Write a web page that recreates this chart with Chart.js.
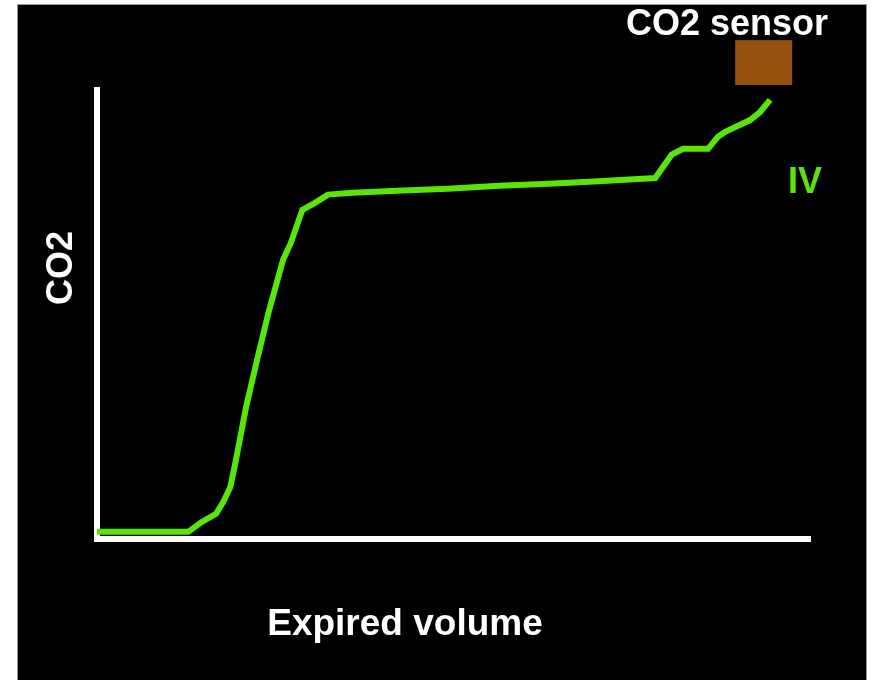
<!DOCTYPE html>
<html>
<head>
<meta charset="utf-8">
<script src="https://cdn.jsdelivr.net/npm/chart.js@4.4.1/dist/chart.umd.min.js"></script>
<style>
    html, body {
        margin: 0;
        padding: 0;
        background: #ffffff;
    }

    #stage {
        position: relative;
        width: 874px;
        height: 680px;
    }

    #panel {
        position: absolute;
        left: 18px;
        top: 5px;
        width: 848px;
        height: 675px;
        background: #000000;
        box-shadow: 0 0 0 1px #9a9a9a;
    }

    #chart {
        position: absolute;
        left: 0;
        top: 0;
    }
</style>
</head>
<body>
<div id="stage">
    <div id="panel"></div>
    <canvas id="chart" width="874" height="680"></canvas>
</div>
<script>
// Capnogram: expired volume (x) vs CO2 (y), arbitrary units 0-100
const volume = [0, 12.8, 14.7, 16.7, 17.7, 18.7, 19.4, 20.9, 22.6, 24.1, 26.1, 27.2, 28.8, 30.4, 32.4, 35.9,
    42.9, 49.2, 56.4, 63.4, 69.7, 78.3, 79.4, 80.6, 82.2, 85.7, 87.1, 88.1, 91.6, 93.0, 94.4];
const co2 = [1.6, 1.6, 3.8, 5.6, 8.2, 11.6, 16.9, 29.3, 40.9, 50.7, 62.2, 66.0, 73.3, 74.7, 76.7, 77.1,
    77.6, 78.0, 78.7, 79.1, 79.6, 80.4, 82.9, 85.6, 86.9, 86.9, 89.6, 90.7, 93.3, 95.1, 97.8];

// sensor block, in the same units: [xFrom, xTo, yFrom, yTo]
const sensorBox = [89.5, 97.5, 101.1, 111.1];

const GREEN = '#58e60a';
const FONT = 'bold 36px "Liberation Sans", Arial, sans-serif';

const points = volume.map((v, i) => ({ x: v, y: co2[i] }));

const labelsPlugin = {
    id: 'capnoLabels',
    afterDraw(chart) {
        const { ctx, scales } = chart;
        const x = scales.x;
        const y = scales.y;

        ctx.save();

        // CO2 sensor block
        const left = x.getPixelForValue(sensorBox[0]);
        const right = x.getPixelForValue(sensorBox[1]);
        const top = y.getPixelForValue(sensorBox[3]);
        const bottom = y.getPixelForValue(sensorBox[2]);
        ctx.fillStyle = '#985010';
        ctx.fillRect(left, top, right - left, bottom - top);

        ctx.font = FONT;
        ctx.textAlign = 'center';
        ctx.textBaseline = 'alphabetic';

        ctx.fillStyle = '#ffffff';
        ctx.fillText('CO2 sensor', 727, 35);
        ctx.font = 'bold 37px "Liberation Sans", Arial, sans-serif';
        ctx.fillText('Expired volume', 405, 635);
        ctx.font = FONT;

        ctx.fillStyle = GREEN;
        ctx.fillText('IV', 805, 193);

        ctx.translate(72, 268);
        ctx.rotate(-Math.PI / 2);
        ctx.fillStyle = '#ffffff';
        ctx.fillText('CO2', 0, 0);

        ctx.restore();
    },
};

const hiddenAxis = {
    type: 'linear',
    min: 0,
    max: 100,
    grid: {
        display: false,
        drawTicks: false,
    },
    ticks: {
        display: false,
    },
    border: {
        display: true,
        color: '#ffffff',
        width: 6,
    },
};

new Chart(document.getElementById('chart'), {
    type: 'line',
    data: {
        datasets: [{
            data: points,
            borderColor: GREEN,
            borderWidth: 6,
            pointRadius: 0,
            tension: 0,
            fill: false,
        }],
    },
    options: {
        responsive: false,
        animation: false,
        layout: {
            padding: {
                top: 90,
                right: 64,
                bottom: 141,
                left: 97,
            },
        },
        plugins: {
            legend: { display: false },
            tooltip: { enabled: false },
        },
        scales: {
            x: {
                ...hiddenAxis,
                afterFit(scale) { scale.height = 0; },
            },
            y: {
                ...hiddenAxis,
                afterFit(scale) { scale.width = 0; },
            },
        },
    },
    plugins: [labelsPlugin],
});
</script>
</body>
</html>
